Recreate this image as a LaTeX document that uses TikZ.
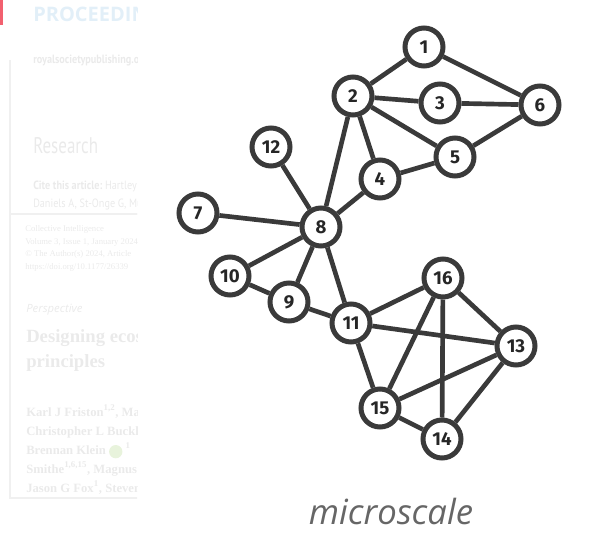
\documentclass[tikz,border=0pt]{standalone}
\usepackage{fontspec}
\setmainfont{Liberation Serif}
\newfontfamily\numfont{Fira Sans}
\newfontfamily\tagfont{Open Sans}
\newfontfamily\headfont{PT Sans}

\definecolor{edgegray}{HTML}{3A3A3A}
\definecolor{fadegray}{HTML}{EAEAEA}
\definecolor{fadeblue}{HTML}{E2EFF8}
\definecolor{fadegreen}{HTML}{E8F3DC}
\definecolor{markred}{HTML}{F2606F}

\tikzset{
  vertex/.style={circle, draw=edgegray, line width=3.75pt, fill=white,
    minimum size=28.5pt, inner sep=0pt,
    font=\numfont\bfseries\fontsize{14}{14}\selectfont, text=black!85},
  link/.style={draw=edgegray, line width=3.5pt},
  faded/.style={anchor=base west, inner sep=0pt, text=fadegray},
}

\begin{document}
\begin{tikzpicture}[x=0.75pt, y=-0.75pt]
  \useasboundingbox (0,0) rectangle (610,542);

  % faded page behind the left side
  \begin{scope}
    \clip (0,0) rectangle (137,500);
    \fill[markred] (0,0) rectangle (3,25);
    \draw[fadegray!70, line width=0.8pt] (10,214) rectangle (150,498);
    \draw[fadegray!70, line width=0.8pt] (10,60) -- (10,214) -- (150,214);
    \node[faded, text=fadeblue, font=\tagfont\bfseries\fontsize{15}{15}\selectfont] (head) at (33,22) {PROCEEDINGS};
    \node[faded, font=\headfont\bfseries\fontsize{9}{9}\selectfont] (site) at (33,64) {\scalebox{0.85}[1]{royalsocietypublishing.org}};
    \node[faded, font=\headfont\fontsize{17}{17}\selectfont] (kind) at (33,153) {\scalebox{0.75}[1]{Research}};
    \node[faded, font=\headfont\fontsize{9}{9}\selectfont] (cite) at (33,189) {\scalebox{0.85}[1]{\bfseries Cite this article:\mdseries\ Hartley}};
    \node[faded, font=\headfont\fontsize{9}{9}\selectfont] (names) at (33,207) {\scalebox{0.85}[1]{Daniels A, St-Onge G, Mu}};
    \node[faded, font=\fontsize{6.5}{6.5}\selectfont] (journal) at (25,231) {Collective Intelligence};
    \node[faded, font=\fontsize{6.5}{6.5}\selectfont] (volume) at (25,244) {Volume 3, Issue 1, January 2024};
    \node[faded, font=\fontsize{6.5}{6.5}\selectfont] (rights) at (25,256) {\textcopyright\ The Author(s) 2024, Article};
    \node[faded, font=\fontsize{6.5}{6.5}\selectfont] (doi) at (25,269) {https://doi.org/10.1177/26339};
    \node[faded, font=\tagfont\itshape\fontsize{8.5}{8.5}\selectfont] (section) at (26,312) {Perspective};
    \node[faded, font=\bfseries\fontsize{14}{14}\selectfont] (title1) at (26,342) {Designing ecosystems};
    \node[faded, font=\bfseries\fontsize{14}{14}\selectfont] (title2) at (26,367) {principles};
    \node[faded, font=\bfseries\fontsize{9.5}{9.5}\selectfont] (auth1) at (26,416) {Karl J Friston\textsuperscript{1,2}, Maxwell};
    \node[faded, font=\bfseries\fontsize{9.5}{9.5}\selectfont] (auth2) at (26,435) {Christopher L Buckley};
    \node[faded, font=\bfseries\fontsize{9.5}{9.5}\selectfont] (auth3) at (26,454) {Brennan Klein \tikz[baseline=-0.4ex]\fill[fadegreen] (0,0) circle (5pt); \textsuperscript{1}};
    \node[faded, font=\bfseries\fontsize{9.5}{9.5}\selectfont] (auth4) at (26,473) {Smithe\textsuperscript{1,6,15}, Magnus};
    \node[faded, font=\bfseries\fontsize{9.5}{9.5}\selectfont] (auth5) at (26,492) {Jason G Fox\textsuperscript{1}, Steven};
  \end{scope}

  % network
  \node[vertex] (n1)  at (424,47)  {1};
  \node[vertex] (n2)  at (353,96)  {2};
  \node[vertex] (n3)  at (440,103) {3};
  \node[vertex] (n4)  at (380,179) {4};
  \node[vertex] (n5)  at (455,157) {5};
  \node[vertex] (n6)  at (540,105) {6};
  \node[vertex] (n7)  at (198,213) {7};
  \node[vertex] (n8)  at (321,227) {8};
  \node[vertex] (n9)  at (289,302) {9};
  \node[vertex] (n10) at (230,276) {10};
  \node[vertex] (n11) at (351,323) {11};
  \node[vertex] (n12) at (271,147) {12};
  \node[vertex] (n13) at (516,346) {13};
  \node[vertex] (n14) at (442,439) {14};
  \node[vertex] (n15) at (380,408) {15};
  \node[vertex] (n16) at (443,278) {16};

  \foreach \a/\b in {n1/n2, n1/n6, n2/n3, n3/n6, n2/n5, n5/n6, n2/n4, n4/n5,
      n2/n8, n4/n8, n12/n8, n7/n8, n8/n10, n8/n9, n8/n11, n10/n9, n9/n11,
      n11/n16, n11/n13, n11/n15, n16/n15, n16/n14, n16/n13, n13/n15,
      n13/n14, n15/n14}
    \draw[link] (\a) -- (\b);

  \node[text=black!60, font=\tagfont\itshape\fontsize{26}{26}\selectfont] (caption) at (391,511) {microscale};
\end{tikzpicture}
\end{document}
